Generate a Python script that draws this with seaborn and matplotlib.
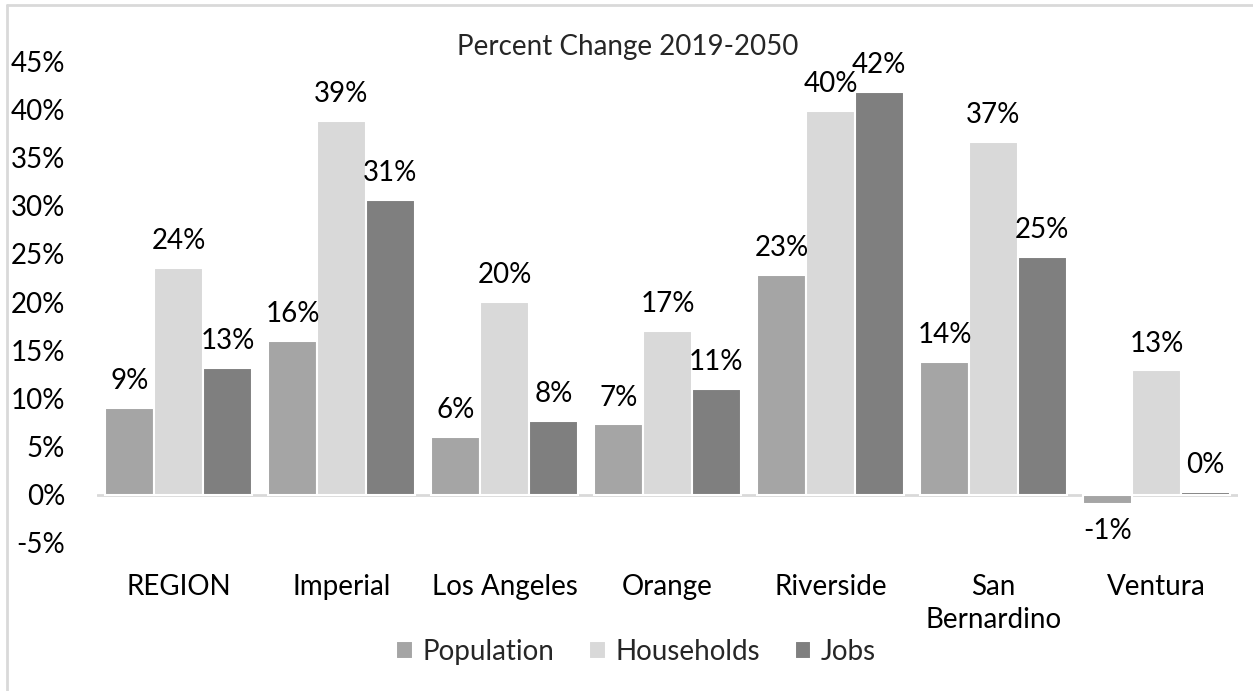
import pandas as pd
import numpy as np
import matplotlib.pyplot as plt
import seaborn as sns
from matplotlib.lines import Line2D

# values in percent
counties = ['REGION', 'Imperial', 'Los Angeles', 'Orange', 'Riverside',
            'San\nBernardino', 'Ventura']
population = [9.0, 16.0, 6.0, 7.3, 22.8, 13.8, -1.0]
households = [23.5, 38.8, 20.0, 17.0, 39.8, 36.6, 12.9]
jobs = [13.2, 30.6, 7.7, 11.0, 41.8, 24.7, 0.3]
series = ['Population', 'Households', 'Jobs']
colors = ['#A5A5A5', '#D9D9D9', '#7F7F7F']

df = pd.DataFrame({
    'county': counties * 3,
    'series': [s for s in series for _ in counties],
    'pct': population + households + jobs,
})

sns.set_theme(style='white')
plt.rcParams['font.family'] = ['Lato', 'DejaVu Sans']
FS = 20

fig = plt.figure(figsize=(12.53, 6.91), dpi=100)
ax = fig.add_axes([0.0774, 0.2142, 0.9106, 0.6975])

sns.barplot(data=df, x='county', y='pct', hue='series', hue_order=series,
            palette=colors, width=0.9, edgecolor='white', linewidth=1.5,
            saturation=1, ax=ax, legend=True)

for cont in ax.containers:
    ax.bar_label(cont, fmt=lambda v: f"{v:.0f}%", padding=10, fontsize=FS,
                 color='black')

ax.axhline(0, color='#D9D9D9', lw=2, zorder=0)
ax.set_xlim(-0.5, 6.5)
ax.set_ylim(-5, 45)
ax.set_yticks(np.arange(-5, 46, 5))
ax.set_yticklabels([f"{v}%" for v in range(-5, 46, 5)])
ax.tick_params(axis='y', length=0, pad=23, labelsize=FS, labelcolor='black')
ax.tick_params(axis='x', length=0, pad=22, labelsize=FS, labelcolor='black')
for lbl in ax.get_xticklabels():
    lbl.set_linespacing(1.35)
ax.set_xlabel('')
ax.set_ylabel('')
for sp in ax.spines.values():
    sp.set_visible(False)

ax.legend(loc='center', bbox_to_anchor=(636 / 1253, 1 - 652 / 691),
          bbox_transform=fig.transFigure, ncol=3, frameon=False,
          fontsize=FS, handlelength=0.6, handleheight=0.6,
          handletextpad=0.35, columnspacing=1.25)

fig.text(628 / 1253, 1 - 47 / 691, 'Percent Change 2019-2050',
         ha='center', va='center', fontsize=FS)

# light chart border (left and top edges)
fig.add_artist(Line2D([7 / 1253, 7 / 1253], [0, 1 - 5 / 691],
                      transform=fig.transFigure, color='#D9D9D9', lw=2))
fig.add_artist(Line2D([7 / 1253, 1], [1 - 5 / 691, 1 - 5 / 691],
                      transform=fig.transFigure, color='#D9D9D9', lw=2))

fig.savefig('out.png', dpi=100)
